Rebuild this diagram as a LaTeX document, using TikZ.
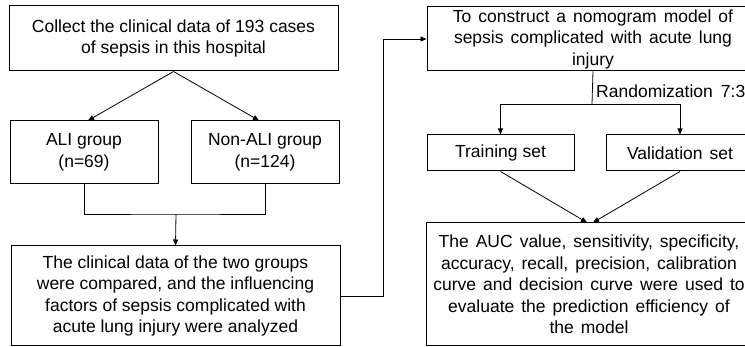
\documentclass[tikz,border=0pt]{standalone}
\usepackage{fontspec}
\setmainfont{Liberation Sans}
\usetikzlibrary{arrows.meta}
\newcommand\myfont{\fontsize{17.5}{21.5}\selectfont}
\newcommand\mywidefont{\fontsize{17.5}{21.5}\selectfont\spaceskip=7pt plus 2pt minus 1pt\relax}
\newcommand\mylblfont{\fontsize{17.5}{21.5}\selectfont\spaceskip=8pt plus 2pt minus 1pt\relax}
\begin{document}
\begin{tikzpicture}[x=1pt,y=-1pt,
  box/.style={draw, line width=1pt, inner sep=0pt, align=center, font=\myfont},
  widebox/.style={box, font=\mywidefont},
  conn/.style={line width=0.8pt},
  arr/.style={conn, -{Triangle[length=6pt,width=5pt]}},
  lbl/.style={font=\mylblfont, inner sep=0pt}]
\useasboundingbox (0,0) rectangle (745,347);
\clip (0,0) rectangle (745,347);
\node[box, minimum width=329pt, minimum height=65pt] (collect) at (173.5,38.5)
  {Collect the clinical data of 193 cases\\of sepsis in this hospital};
\node[box, minimum width=148pt, minimum height=63pt] (ali) at (84,152.5)
  {ALI group\\(n=69)};
\node[box, minimum width=148pt, minimum height=63pt] (nonali) at (265,152.5)
  {Non-ALI group\\(n=124)};
\node[box, minimum width=329pt, minimum height=100pt] (cmp) at (175.5,296)
  {The clinical data of the two groups\\were compared, and the influencing\\factors of sepsis complicated with\\acute lung injury were analyzed};
\node[widebox, minimum width=332pt, minimum height=64pt] (nom) at (593,39)
  {To construct a nomogram model of\\sepsis complicated with acute lung\\injury};
\node[box, minimum width=147pt, minimum height=36pt] (train) at (500.5,153)
  {Training set};
\node[widebox, minimum width=148pt, minimum height=36pt] (val) at (680,153)
  {Validation set};
\node[widebox, minimum width=326pt, minimum height=123pt] (auc) at (589,284.5)
  {The AUC value, sensitivity, specificity,\\accuracy, recall, precision, calibration\\curve and decision curve were used to\\evaluate the prediction efficiency of\\the model};
% connectors
\draw[arr] (collect.south) -- ([xshift=4pt]ali.north);
\draw[arr] (collect.south) -- ([xshift=-6pt]nonali.north);
\coordinate (merge) at (176,214);
\draw[conn] (ali.south) |- (merge) -| (nonali.south);
\draw[arr] (merge) -- (cmp.north);
\coordinate (turn) at (383,0);
\draw[arr] (cmp.east) -- (cmp.east -| turn) |- (nom.west);
\coordinate (split) at (592,104);
\draw[conn] (nom.south) -- (split);
\draw[arr] (split) -| (train.north);
\draw[arr] (split) -| (val.north);
\node[lbl, anchor=west] (rnd) at (596,91) {Randomization 7:3};
\draw[arr] (train.south) -- ([xshift=-2pt]auc.north);
\draw[arr] (val.south) -- ([xshift=4pt]auc.north);
\end{tikzpicture}
\end{document}
